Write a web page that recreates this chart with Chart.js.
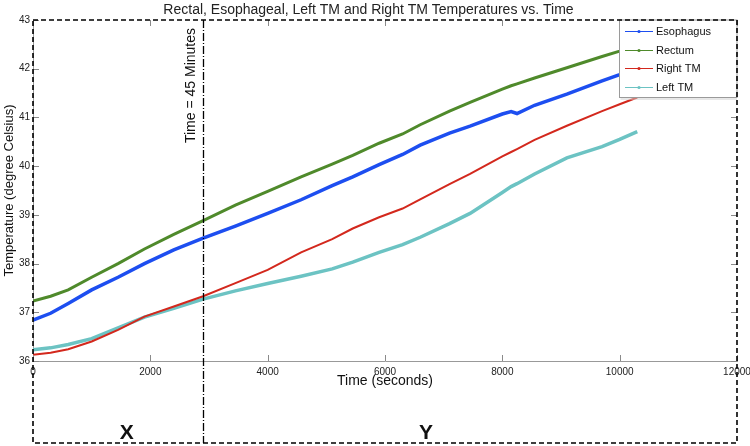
<!DOCTYPE html>
<html><head><meta charset="utf-8">
<script src="https://cdn.jsdelivr.net/npm/chart.js@4.4.0/dist/chart.umd.min.js"></script>
<style>html,body{margin:0;padding:0;background:#fff;}#wrap{width:750px;height:446px;}</style>
</head><body><div id="wrap"><canvas id="c" width="750" height="446"></canvas></div>
<script>
// ---- data ----
const timeSeconds = [0,300,600,1000,1450,1900,2400,2900,3450,4000,4570,5100,5450,5900,6300,6600,7100,7450,8000,8150,8250,8550,9100,9700,10000,10300];
const esophagus = [36.84,36.98,37.18,37.46,37.72,38.00,38.28,38.52,38.77,39.03,39.31,39.60,39.78,40.03,40.24,40.43,40.68,40.82,41.07,41.12,41.08,41.25,41.48,41.75,41.88,42.02];
const rectum    = [37.23,37.33,37.46,37.72,38.00,38.30,38.60,38.88,39.20,39.48,39.78,40.04,40.22,40.47,40.66,40.85,41.13,41.31,41.58,41.65,41.69,41.81,42.02,42.25,42.36,42.48];
const rightTM   = [36.13,36.17,36.24,36.40,36.64,36.91,37.12,37.33,37.60,37.87,38.23,38.50,38.72,38.95,39.13,39.32,39.63,39.84,40.20,40.29,40.35,40.54,40.83,41.13,41.27,41.41];
const leftTM    = [36.23,36.27,36.34,36.46,36.68,36.90,37.08,37.27,37.44,37.59,37.74,37.89,38.03,38.23,38.39,38.54,38.82,39.03,39.46,39.58,39.64,39.84,40.17,40.40,40.55,40.71];
const seriesNames = ['Esophagus','Rectum','Right TM','Left TM'];
const xTickValues = [0,2000,4000,6000,8000,10000,12000];
const yTickValues = [36,37,38,39,40,41,42,43];
const markerTime = 2900;
const markerLabel = 'Time = 45 Minutes';
const regionLabels = ['X','Y'];
const regionLabelTimes = [1600,6700];
const chartTitle = 'Rectal, Esophageal, Left TM and Right TM Temperatures vs. Time';
const xTitle = 'Time (seconds)';
const yTitle = 'Temperature (degree Celsius)';

// ---- styling ----
const FONT = '"Liberation Sans", Arial, Helvetica, sans-serif';
Chart.defaults.font.family = FONT;
const colors = ['#1d4ef0','#4f8a2b','#d3281d','#6cc3c3'];
const widths = [3.5,3,2,3.5];
const seriesValues = [esophagus, rectum, rightTM, leftTM];
const toPts = arr => arr.map((v,i)=>({x: timeSeconds[i], y: v}));

const overlay = {
  id: 'overlay',
  afterDatasetsDraw(chart) {
    const ctx = chart.ctx, a = chart.chartArea;
    const xs = chart.scales.x, ys = chart.scales.y;
    const boxBottom = 443;
    ctx.save();
    // inner ticks on four sides
    ctx.strokeStyle = '#8a8a8a'; ctx.lineWidth = 1;
    ctx.beginPath();
    xTickValues.forEach(v => {
      const px = Math.round(xs.getPixelForValue(v)) + 0.5;
      ctx.moveTo(px, a.bottom); ctx.lineTo(px, a.bottom - 6);
      ctx.moveTo(px, a.top); ctx.lineTo(px, a.top + 6);
    });
    yTickValues.forEach(v => {
      const py = Math.round(ys.getPixelForValue(v)) + 0.5;
      ctx.moveTo(a.left, py); ctx.lineTo(a.left + 6, py);
      ctx.moveTo(a.right, py); ctx.lineTo(a.right - 6, py);
    });
    ctx.stroke();
    // marker label
    const mx = xs.getPixelForValue(markerTime);
    ctx.fillStyle = '#111';
    ctx.font = '14px ' + FONT;
    ctx.save();
    ctx.translate(mx - 12, a.top + 8);
    ctx.rotate(-Math.PI/2);
    ctx.textAlign = 'right'; ctx.textBaseline = 'middle';
    ctx.fillText(markerLabel, 0, 0);
    ctx.restore();
    // region labels
    ctx.font = 'bold 21px ' + FONT;
    ctx.textAlign = 'center'; ctx.textBaseline = 'middle';
    regionLabels.forEach((t,i) => ctx.fillText(t, xs.getPixelForValue(regionLabelTimes[i]), 433));
    // legend
    const lx = 619.5, ly = a.top, lw = a.right - 619.5, lh = 77.5;
    ctx.fillStyle = '#fff';
    ctx.fillRect(lx, ly, lw, lh);
    ctx.strokeStyle = '#d0d0d0'; ctx.lineWidth = 1;
    ctx.beginPath(); ctx.moveTo(lx + 1, ly + lh + 1.5); ctx.lineTo(lx + lw, ly + lh + 1.5); ctx.stroke();
    ctx.strokeStyle = '#9a9a9a';
    ctx.strokeRect(lx, ly, lw, lh);
    ctx.font = '11px ' + FONT;
    ctx.textAlign = 'left'; ctx.textBaseline = 'middle';
    chart.data.datasets.forEach((ds,i) => {
      const y = Math.round(ly + 11 + i * 18.5) + 0.5;
      ctx.strokeStyle = ds.borderColor; ctx.lineWidth = 1;
      ctx.beginPath(); ctx.moveTo(625, y); ctx.lineTo(653, y); ctx.stroke();
      ctx.fillStyle = ds.borderColor;
      ctx.beginPath(); ctx.arc(639, y, 1.6, 0, Math.PI*2); ctx.fill();
      ctx.fillStyle = '#111';
      ctx.fillText(ds.label, 656, y + 0.5);
    });
    // vertical dash-dot marker line
    ctx.strokeStyle = '#000'; ctx.lineWidth = 1.3;
    ctx.setLineDash([8,2,1,2]);
    ctx.beginPath(); ctx.moveTo(Math.round(mx)+0.5, a.top); ctx.lineTo(Math.round(mx)+0.5, boxBottom); ctx.stroke();
    // dashed box
    ctx.setLineDash([5,3]); ctx.lineWidth = 1.6;
    ctx.beginPath();
    ctx.moveTo(a.left, a.top); ctx.lineTo(a.right, a.top);
    ctx.lineTo(a.right, boxBottom); ctx.lineTo(a.left, boxBottom); ctx.closePath();
    ctx.stroke();
    ctx.restore();
  }
};

new Chart(document.getElementById('c'), {
  type: 'line',
  data: {
    datasets: seriesNames.map((n,i) => ({
      label: n, data: toPts(seriesValues[i]),
      borderColor: colors[i], backgroundColor: colors[i],
      borderWidth: widths[i], pointRadius: 0, tension: 0, fill: false
    }))
  },
  options: {
    responsive: false, animation: false,
    layout: { padding: { left: 0, right: 13, top: 0, bottom: 55 } },
    plugins: {
      legend: { display: false },
      tooltip: { enabled: false },
      title: { display: true, text: chartTitle, color: '#222',
        font: { size: 14, weight: 'normal', lineHeight: 1.2 }, padding: { top: 1.6, bottom: 1.6 } }
    },
    scales: {
      x: {
        type: 'linear', min: 0, max: 12000,
        afterBuildTicks: s => { s.ticks = xTickValues.map(v => ({ value: v })); },
        afterFit: s => { s.height = 30; s.paddingLeft = 0; s.paddingRight = 0; },
        grid: { display: false, drawTicks: false },
        border: { display: true, color: '#999', width: 1 },
        ticks: { color: '#222', font: { size: 10 }, padding: 5, maxRotation: 0, autoSkip: false,
          callback: v => String(v) },
        title: { display: true, text: xTitle, color: '#111', font: { size: 14 }, padding: { top: 0, bottom: 1.6 } }
      },
      y: {
        type: 'linear', min: 36, max: 43,
        afterBuildTicks: s => { s.ticks = yTickValues.map(v => ({ value: v })); },
        afterFit: s => { s.width = 33; s.paddingTop = 0; s.paddingBottom = 0; },
        grid: { display: false, drawTicks: false },
        border: { display: true, color: '#999', width: 1 },
        ticks: { color: '#222', font: { size: 10 }, padding: 3, callback: v => String(v) },
        title: { display: true, text: yTitle, color: '#111', font: { size: 13 }, padding: { top: 2, bottom: 0 } }
      }
    }
  },
  plugins: [overlay]
});
</script>
</body></html>
